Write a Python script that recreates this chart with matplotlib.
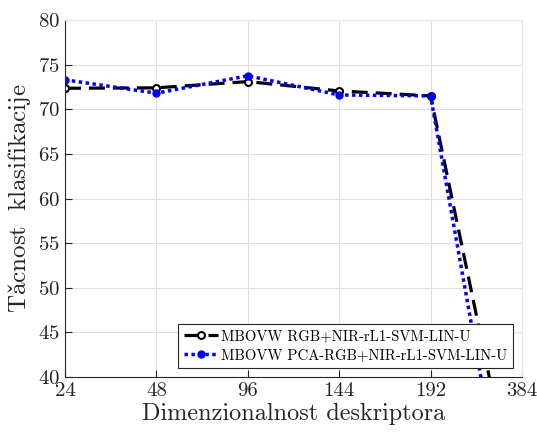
import matplotlib
matplotlib.use("Agg")
import matplotlib.pyplot as plt

plt.rcParams["font.family"] = ["cmr10", "DejaVu Serif"]
plt.rcParams["mathtext.fontset"] = "cm"
plt.rcParams["axes.formatter.use_mathtext"] = True

dims = ["24", "48", "96", "144", "192", "384"]
rgb_nir = [72.35, 72.4, 73.1, 72.05, 71.5, 22.5]
pca_rgb_nir = [73.3, 71.8, 73.75, 71.6, 71.5, 14.3]

x = list(range(len(dims)))

fig = plt.figure(figsize=(5.37, 4.34), dpi=100)
ax = fig.add_axes([0.121, 0.131, 0.851, 0.823])

ax.plot(x, rgb_nir, color="black", linestyle=(0, (5, 2.5)), linewidth=2.3,
        marker="o", markersize=5, markerfacecolor="white", markeredgecolor="black",
        markeredgewidth=1.5, label="MBOVW RGB+NIR-rL1-SVM-LIN-U")
ax.plot(x, pca_rgb_nir, color="blue", linestyle=(0, (1, 1)), linewidth=2.5,
        marker="o", markersize=5, markerfacecolor="blue", markeredgecolor="blue",
        label="MBOVW PCA-RGB+NIR-rL1-SVM-LIN-U")

ax.set_xlim(0, 5)
ax.set_ylim(40, 80)
ax.set_xticks(x)
ax.set_xticklabels(dims)
ax.set_yticks(range(40, 81, 5))
ax.tick_params(direction="in", labelsize=15, length=5, color="#262626", labelcolor="#262626")
ax.grid(True, color="#e0e0e0", linewidth=0.8)
ax.set_axisbelow(True)
for side in ["top", "right"]:
    ax.spines[side].set_color("#e6e6e6")
for side in ["left", "bottom"]:
    ax.spines[side].set_color("#262626")

ax.set_xlabel("Dimenzionalnost deskriptora", fontsize=17.5, color="#262626", labelpad=2)
ax.set_ylabel(r"$\mathrm{Ta\check{c}nost\ \ klasifikacije}$", fontsize=18,
              color="#262626", labelpad=4)

leg = ax.legend(loc="lower right", bbox_to_anchor=(0.981, 0.025), fontsize=10.6,
                frameon=True, fancybox=False, edgecolor="#262626", framealpha=1,
                borderpad=0.4, labelspacing=0.35, handlelength=2.3, handletextpad=0.2,
                borderaxespad=0)
leg.get_frame().set_linewidth(0.8)

fig.savefig("out.png", dpi=100)
